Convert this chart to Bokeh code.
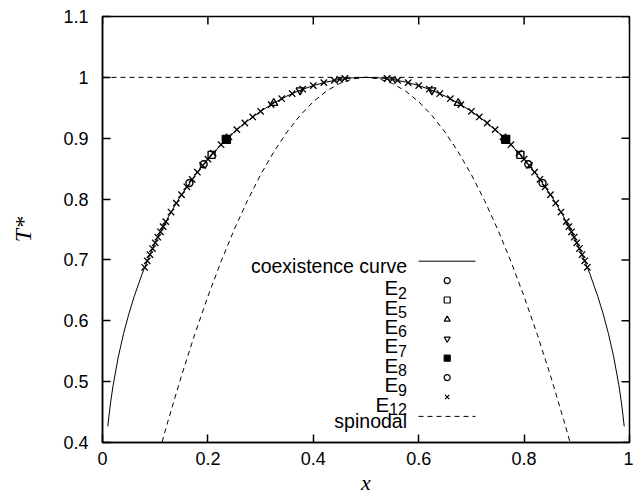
from bokeh.plotting import figure
from bokeh.models import Range1d, FixedTicker, CustomJSTickFormatter, Label
from bokeh.embed import file_html
from bokeh.resources import INLINE

# ---------------- data ----------------
x_ticks = [0, 0.2, 0.4, 0.6, 0.8, 1.0]
y_ticks = [0.4, 0.5, 0.6, 0.7, 0.8, 0.9, 1.0, 1.1]

coex_x = [0.01, 0.015, 0.02, 0.03, 0.04, 0.05, 0.06, 0.075, 0.09, 0.10, 0.11, 0.125, 0.14, 0.15,
          0.175, 0.20, 0.225, 0.25, 0.275, 0.30, 0.325, 0.35, 0.375, 0.40, 0.425, 0.45, 0.475, 0.50,
          0.525, 0.55, 0.575, 0.60, 0.625, 0.65, 0.675, 0.70, 0.725, 0.75, 0.775, 0.80, 0.825,
          0.85, 0.86, 0.875, 0.89, 0.90, 0.91, 0.925, 0.94, 0.95, 0.96, 0.97, 0.98, 0.985, 0.99]
coex_T = [0.4266, 0.4636, 0.4933, 0.5408, 0.5790, 0.6114, 0.6396, 0.6767, 0.7088, 0.7282, 0.7462,
          0.7708, 0.7933, 0.8071, 0.8384, 0.8656, 0.8894, 0.9102, 0.9284, 0.9442, 0.9577, 0.9693,
          0.9789, 0.9865, 0.9924, 0.9966, 0.9992, 1.0,
          0.9992, 0.9966, 0.9924, 0.9865, 0.9789, 0.9693, 0.9577, 0.9442, 0.9284, 0.9102, 0.8894,
          0.8656, 0.8384, 0.8071, 0.7933, 0.7708, 0.7462, 0.7282, 0.7088, 0.6767, 0.6396, 0.6114,
          0.5790, 0.5408, 0.4933, 0.4636, 0.4266]

spin_x = [0.113, 0.125, 0.15, 0.175, 0.20, 0.225, 0.25, 0.275, 0.30, 0.325, 0.35, 0.375, 0.40,
          0.425, 0.45, 0.475, 0.50, 0.525, 0.55, 0.575, 0.60, 0.625, 0.65, 0.675, 0.70, 0.725,
          0.75, 0.775, 0.80, 0.825, 0.85, 0.875, 0.887]
spin_T = [0.401, 0.4375, 0.51, 0.5775, 0.64, 0.6975, 0.75, 0.7975, 0.84, 0.8775, 0.91, 0.9375,
          0.96, 0.9775, 0.99, 0.9975, 1.0, 0.9975, 0.99, 0.9775, 0.96, 0.9375, 0.91, 0.8775, 0.84,
          0.7975, 0.75, 0.6975, 0.64, 0.5775, 0.51, 0.4375, 0.401]

crit_x = [0.0, 1.0]
crit_T = [1.0, 1.0]

e12_x = [0.08, 0.085, 0.09, 0.095, 0.10, 0.105, 0.11, 0.115, 0.12, 0.13, 0.14, 0.15, 0.16, 0.17,
         0.18, 0.19, 0.20, 0.21, 0.225, 0.24, 0.255, 0.27, 0.285, 0.30, 0.32, 0.34, 0.36, 0.38,
         0.40, 0.42, 0.44, 0.45, 0.46,
         0.54, 0.55, 0.56, 0.58, 0.60, 0.62, 0.64, 0.66, 0.68, 0.70, 0.715, 0.73, 0.745, 0.76,
         0.775, 0.79, 0.80, 0.81, 0.82, 0.83, 0.84, 0.85, 0.86, 0.87, 0.88, 0.885, 0.89, 0.895,
         0.90, 0.905, 0.91, 0.915, 0.92]
e12_T = [0.6879, 0.6986, 0.7088, 0.7187, 0.7282, 0.7373, 0.7462, 0.7547, 0.7629, 0.7786, 0.7933,
         0.8071, 0.8202, 0.8325, 0.8442, 0.8552, 0.8656, 0.8755, 0.8894, 0.9022, 0.9141, 0.9250,
         0.9350, 0.9442, 0.9552, 0.9649, 0.9732, 0.9806, 0.9865, 0.9913, 0.9950, 0.9966, 0.9981,
         0.9981, 0.9966, 0.9950, 0.9913, 0.9865, 0.9806, 0.9732, 0.9649, 0.9552, 0.9442, 0.9350,
         0.9250, 0.9141, 0.9022, 0.8894, 0.8755, 0.8656, 0.8552, 0.8442, 0.8325, 0.8202, 0.8071,
         0.7933, 0.7786, 0.7629, 0.7547, 0.7462, 0.7373, 0.7282, 0.7187, 0.7088, 0.6986, 0.6879]

e2_x, e2_T = [0.165, 0.835], [0.8264, 0.8264]
e5_x, e5_T = [0.207, 0.793], [0.8726, 0.8726]
e6_x, e6_T = [0.325, 0.675], [0.9577, 0.9577]
e7_x, e7_T = [0.375, 0.625], [0.9789, 0.9789]
e8_x, e8_T = [0.235, 0.765], [0.8981, 0.8981]
e9_x, e9_T = [0.192, 0.808], [0.8573, 0.8573]

legend_subs = ["2", "5", "6", "7", "8", "9", "12"]
legend_markers = ["circle", "square", "triangle", "inverted_triangle", "square", "circle", "x"]
legend_fills = [None, None, None, None, "black", None, None]

# ---------------- figure ----------------
XMIN, XMAX, YMIN, YMAX = 0.0, 1.0, 0.4, 1.1
W, H = 633, 500
FL, FR, FT, FB = 102, 629, 16, 442
TICK = 8

p = figure(width=W, height=H, x_range=Range1d(XMIN, XMAX), y_range=Range1d(YMIN, YMAX),
           output_backend="svg", toolbar_location=None,
           min_border_left=FL, min_border_right=W - FR, min_border_top=FT, min_border_bottom=H - FB)
p.xgrid.visible = False
p.ygrid.visible = False
p.outline_line_color = "black"
p.outline_line_width = 1.5
p.background_fill_color = "white"
p.border_fill_color = "white"

fmt = CustomJSTickFormatter(code="return String(Math.round(tick*10)/10);")

def style_axis(ax, ticks):
    ax.ticker = FixedTicker(ticks=ticks)
    ax.major_tick_in = TICK
    ax.major_tick_out = 0
    ax.major_tick_line_width = 1.5
    ax.major_tick_line_color = "black"
    ax.minor_tick_line_color = None
    ax.axis_line_color = "black"
    ax.axis_line_width = 1.5
    ax.formatter = fmt
    ax.major_label_text_font = "Liberation Sans"
    ax.major_label_text_font_size = "18px"
    ax.major_label_text_color = "black"
    ax.axis_label_text_font = "Liberation Serif"
    ax.axis_label_text_font_style = "italic"
    ax.axis_label_text_color = "black"

style_axis(p.xaxis[0], x_ticks)
p.xaxis[0].major_label_standoff = 9
p.xaxis[0].axis_label = "x"
p.xaxis[0].axis_label_text_font_size = "22px"
p.xaxis[0].axis_label_standoff = 2
style_axis(p.yaxis[0], y_ticks)
p.yaxis[0].major_label_standoff = 14
p.yaxis[0].axis_label = "T*"
p.yaxis[0].axis_label_text_font_size = "24px"
p.yaxis[0].axis_label_standoff = 24

def dx(px):
    return XMIN + (px - FL) / (FR - FL) * (XMAX - XMIN)

def dy(py):
    return YMIN + (FB - py) / (FB - FT) * (YMAX - YMIN)

# mirror ticks on the top and right frame edges
tick_dy = TICK / (FB - FT) * (YMAX - YMIN)
tick_dx = TICK / (FR - FL) * (XMAX - XMIN)
p.segment(x0=x_ticks, y0=[YMAX] * len(x_ticks), x1=x_ticks, y1=[YMAX - tick_dy] * len(x_ticks),
          line_color="black", line_width=1.5)
p.segment(x0=[XMAX] * len(y_ticks), y0=y_ticks, x1=[XMAX - tick_dx] * len(y_ticks), y1=y_ticks,
          line_color="black", line_width=1.5)

DASH = "5 4"
p.line(coex_x, coex_T, line_color="black", line_width=1)
p.line(spin_x, spin_T, line_color="black", line_width=1, line_dash=DASH)
p.line(crit_x, crit_T, line_color="black", line_width=1, line_dash=DASH)

MS = 7
p.scatter(e12_x, e12_T, marker="x", size=9, line_color="black", line_width=1.3)
p.scatter(e2_x, e2_T, marker="circle", size=MS, line_color="black", fill_color=None, line_width=1.4)
p.scatter(e5_x, e5_T, marker="square", size=MS, line_color="black", fill_color=None, line_width=1.4)
p.scatter(e6_x, e6_T, marker="triangle", size=MS + 1, line_color="black", fill_color=None, line_width=1.4)
p.scatter(e7_x, e7_T, marker="inverted_triangle", size=MS + 1, line_color="black", fill_color=None, line_width=1.4)
p.scatter(e8_x, e8_T, marker="square", size=MS + 1, line_color="black", fill_color="black", line_width=1.4)
p.scatter(e9_x, e9_T, marker="circle", size=MS, line_color="black", fill_color=None, line_width=1.4)

# ---------------- legend (manual) ----------------
ROW0, ROWH = 260.7, 19.4
TXT_R = 406.5
SAMPLE_L, SAMPLE_R, MARK_X = 418, 475, 446.7

def lab(text, px, py, size):
    p.add_layout(Label(x=dx(px), y=dy(py), text=text, text_align="right", text_baseline="alphabetic",
                       text_font="Liberation Sans", text_font_size=size, text_color="black"))

r = ROW0
lab("coexistence curve", TXT_R, r + 4.5, "19.5px")
p.line([dx(SAMPLE_L), dx(SAMPLE_R)], [dy(r), dy(r)], line_color="black", line_width=1)

for i, (sub, mk, fc) in enumerate(zip(legend_subs, legend_markers, legend_fills)):
    r = ROW0 + ROWH * (i + 1)
    sw = 8.9 * len(sub)
    lab("E", TXT_R - sw, r + 7, "20.5px")
    lab(sub, TXT_R, r + 12, "16px")
    p.scatter([dx(MARK_X)], [dy(r)], marker=mk, size=6, line_color="black", fill_color=fc,
              line_width=1.2)

r = ROW0 + ROWH * 8
lab("spinodal", TXT_R, r + 4.5, "19.5px")
p.line([dx(SAMPLE_L), dx(SAMPLE_R)], [dy(r), dy(r)], line_color="black", line_width=1,
       line_dash=DASH)

open("out.html", "w").write(file_html(p, INLINE))
